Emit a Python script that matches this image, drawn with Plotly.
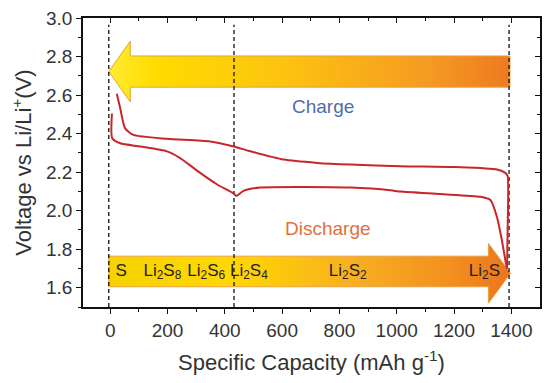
import plotly.graph_objects as go

# ---- data ----
discharge_cap = [6, 7, 35, 105, 198, 244, 314, 372, 431, 440, 465, 524, 663, 838, 978, 1013, 1152, 1292, 1327, 1350, 1367, 1379, 1385]
discharge_v   = [2.504, 2.376, 2.35, 2.333, 2.308, 2.273, 2.196, 2.137, 2.089, 2.077, 2.103, 2.12, 2.123, 2.12, 2.106, 2.099, 2.086, 2.072, 2.055, 1.966, 1.846, 1.744, 1.70]

charge_cap = [1385, 1387, 1387, 1379, 1350, 1210, 1013, 838, 722, 605, 489, 431, 349, 198, 81, 52, 35, 23]
charge_v   = [1.70, 1.90, 2.18, 2.196, 2.214, 2.226, 2.231, 2.239, 2.248, 2.265, 2.308, 2.333, 2.359, 2.373, 2.393, 2.427, 2.53, 2.607]

phase_boundaries = [-5, 432, 1392]

species_labels = ["S", "Li<sub>2</sub>S<sub>8</sub>", "Li<sub>2</sub>S<sub>6</sub>", "Li<sub>2</sub>S<sub>4</sub>",
                  "Li<sub>2</sub>S<sub>2</sub>", "Li<sub>2</sub>S"]
species_cap = [38, 182, 335, 484, 829, 1306]
species_v = 1.685

x_range = [-95, 1500]
y_range = [1.5, 3.0]
x_major = [0, 200, 400, 600, 800, 1000, 1200, 1400]
x_minor = [-100, 100, 300, 500, 700, 900, 1100, 1300]
y_major = [1.6, 1.8, 2.0, 2.2, 2.4, 2.6, 2.8, 3.0]
y_minor = [1.5, 1.7, 1.9, 2.1, 2.3, 2.5, 2.7, 2.9]

# arrow geometry (data units)
charge_arrow = dict(tip=-5, head_base=70, end=1395, body=(2.641, 2.803), head=(2.564, 2.88))
discharge_arrow = dict(start=-5, head_base=1320, tip=1397, body=(1.605, 1.764), head=(1.52, 1.83))

red = "#c9262b"
font_family = "Liberation Sans, Arial, sans-serif"
fig = go.Figure()

# ---- arrows ----
ca = charge_arrow
cy = (ca["head"][0] + ca["head"][1]) / 2
cx_poly = [ca["tip"], ca["head_base"], ca["head_base"], ca["end"], ca["end"], ca["head_base"], ca["head_base"], ca["tip"]]
cy_poly = [cy, ca["head"][1], ca["body"][1], ca["body"][1], ca["body"][0], ca["body"][0], ca["head"][0], cy]
fig.add_trace(go.Scatter(x=cx_poly, y=cy_poly, mode="lines", fill="toself",
                         line=dict(color="#e8a040", width=1),
                         fillgradient=dict(type="horizontal",
                                           colorscale=[[0, "#ffec30"], [0.12, "#ffdc00"], [0.45, "#fcc210"],
                                                       [0.8, "#f59a22"], [1, "#ee7a20"]]),
                         hoverinfo="skip", showlegend=False))

da = discharge_arrow
dy = (da["head"][0] + da["head"][1]) / 2
dx_poly = [da["start"], da["head_base"], da["head_base"], da["tip"], da["head_base"], da["head_base"], da["start"], da["start"]]
dy_poly = [da["body"][1], da["body"][1], da["head"][1], dy, da["head"][0], da["body"][0], da["body"][0], da["body"][1]]
fig.add_trace(go.Scatter(x=dx_poly, y=dy_poly, mode="lines", fill="toself",
                         line=dict(color="#e8a040", width=1),
                         fillgradient=dict(type="horizontal",
                                           colorscale=[[0, "#f5d200"], [0.3, "#ffd800"], [0.6, "#f8b020"],
                                                       [0.85, "#f2901e"], [1, "#ee741e"]]),
                         hoverinfo="skip", showlegend=False))

# ---- dashed boundaries ----
for xb in phase_boundaries:
    fig.add_trace(go.Scatter(x=[xb, xb], y=[y_range[0], 2.965], mode="lines",
                             line=dict(color="#111111", width=1.3, dash="4px,3px"),
                             hoverinfo="skip", showlegend=False))

# ---- curves ----
fig.add_trace(go.Scatter(x=discharge_cap, y=discharge_v, mode="lines",
                         line=dict(color=red, width=2, shape="spline", smoothing=0.6),
                         showlegend=False, name="Discharge"))
fig.add_trace(go.Scatter(x=charge_cap, y=charge_v, mode="lines",
                         line=dict(color=red, width=2, shape="spline", smoothing=0.6),
                         showlegend=False, name="Charge"))

# ---- species labels ----
fig.add_trace(go.Scatter(x=species_cap, y=[species_v] * len(species_cap), mode="text",
                         text=species_labels, textposition="middle center",
                         textfont=dict(family=font_family, size=17, color="#222222"),
                         hoverinfo="skip", showlegend=False))

# invisible trace for mirrored axes
fig.add_trace(go.Scatter(x=[0], y=[2.0], xaxis="x2", yaxis="y2", mode="markers",
                         marker=dict(opacity=0), hoverinfo="skip", showlegend=False))

fig.add_annotation(x=744, y=2.54, text="Charge", showarrow=False,
                   font=dict(family=font_family, size=19, color="#4f6ea8"))
fig.add_annotation(x=761, y=1.91, text="Discharge", showarrow=False,
                   font=dict(family=font_family, size=19, color="#e2703e"))

axis_common = dict(showline=True, linecolor="#111111", linewidth=1.8, showgrid=False, zeroline=False,
                   tickcolor="#111111", tickwidth=1.3, automargin=False)

# page has an 8px body margin; size the figure so the plot area lands where the reference has it
fig.update_layout(
    width=534, height=367,
    margin=dict(l=75, r=2, t=10, b=68),
    paper_bgcolor="white", plot_bgcolor="white",
    font=dict(family=font_family, color="#333333"),
    xaxis=dict(range=x_range, tickmode="array", tickvals=x_major, ticklabeloverflow="allow",
               ticks="outside", ticklen=5, tickfont=dict(size=19, color="#333333"),
               minor=dict(tickvals=x_minor, ticks="outside", ticklen=3, tickcolor="#111111"),
               title=dict(text="Specific Capacity (mAh g<sup>-1</sup>)", font=dict(size=22, color="#333333"), standoff=15),
               **axis_common),
    yaxis=dict(range=y_range, tickmode="array", tickvals=y_major, ticklabeloverflow="allow",
               tickformat=".1f", ticks="outside", ticklen=5, tickfont=dict(size=19, color="#333333"),
               minor=dict(tickvals=y_minor, ticks="outside", ticklen=3, tickcolor="#111111"),
               title=dict(text="Voltage vs Li/Li<sup>+</sup>(V)", font=dict(size=22, color="#333333"), standoff=9),
               **axis_common),
    xaxis2=dict(range=x_range, overlaying="x", side="top", anchor="y2", showticklabels=False,
                tickmode="array", tickvals=x_major, ticks="inside", ticklen=5,
                minor=dict(tickvals=x_minor, ticks="inside", ticklen=3, tickcolor="#111111"),
                **axis_common),
    yaxis2=dict(range=y_range, overlaying="y", side="right", anchor="x2", showticklabels=False,
                tickmode="array", tickvals=y_major, ticks="inside", ticklen=5,
                minor=dict(tickvals=y_minor, ticks="inside", ticklen=3, tickcolor="#111111"),
                **axis_common),
)

fig.write_html("out.html")
